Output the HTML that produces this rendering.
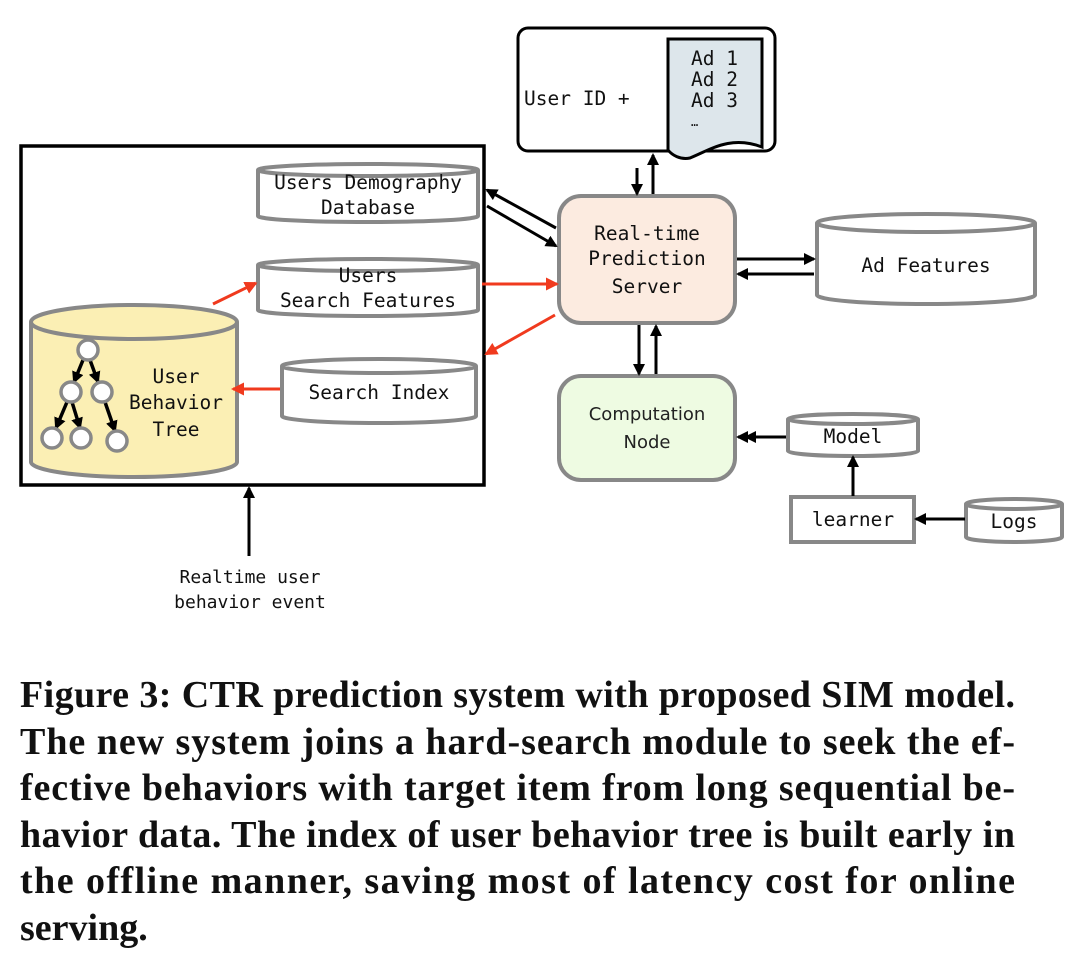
<!DOCTYPE html>
<html><head><meta charset="utf-8"><style>
body{margin:0;background:#fff;}
svg{display:block}
.m{font-family:"DejaVu Sans Mono","Liberation Mono",monospace;font-size:19.5px;fill:#111}
.s{font-family:"DejaVu Sans","Liberation Sans",sans-serif;font-size:18px;fill:#222}
.c{font-family:"Liberation Serif",serif;font-weight:bold;font-size:38px;fill:#111}
</style></head><body>
<svg width="1080" height="975" viewBox="0 0 1080 975" xmlns="http://www.w3.org/2000/svg">
<defs>
<marker id="a" markerWidth="12" markerHeight="12" refX="10" refY="6" orient="auto" markerUnits="userSpaceOnUse"><path d="M0,0 L12,6 L0,12 z" fill="#000"/></marker>
<marker id="r" markerWidth="13" markerHeight="13" refX="11" refY="6.5" orient="auto" markerUnits="userSpaceOnUse"><path d="M0,0 L13,6.5 L0,13 z" fill="#f03a1e"/></marker>
</defs>
<rect x="21" y="146" width="463" height="339" fill="none" stroke="#000" stroke-width="3.5"/>
<g stroke="#888" stroke-width="4" fill="#fff">
<path d="M258,170 V216 A110,6 0 0 0 478,216 V170"/><ellipse cx="368" cy="170" rx="110" ry="6"/>
<path d="M258,265 V310 A110,6 0 0 0 478,310 V265"/><ellipse cx="368" cy="265" rx="110" ry="6"/>
<path d="M282,366 V416 A97,7 0 0 0 476,416 V366"/><ellipse cx="379" cy="366" rx="97" ry="7"/>
<path d="M817,223 V295 A109,9 0 0 0 1035,295 V223"/><ellipse cx="926" cy="223" rx="109" ry="9"/>
<path d="M788,419 V451 A65,5 0 0 0 918,451 V419"/><ellipse cx="853" cy="419" rx="65" ry="5"/>
<path d="M966,504 V537 A48,5 0 0 0 1062,537 V504"/><ellipse cx="1014" cy="504" rx="48" ry="5"/>
<path d="M31,322 V462 A103,15 0 0 0 237,462 V322" fill="#fbefb4"/><ellipse cx="134" cy="322" rx="103" ry="17" fill="#fbefb4"/>
<rect x="791" y="497" width="123" height="45" fill="#fff"/>
</g>
<g stroke="#000" stroke-width="3.5" marker-end="url(#a)">
<line x1="83" y1="360" x2="74" y2="382"/><line x1="90" y1="360" x2="98" y2="382"/>
<line x1="67" y1="402" x2="56" y2="428"/><line x1="72" y1="402" x2="80" y2="428"/><line x1="105" y1="402" x2="115" y2="431"/>
</g>
<g stroke="#888" stroke-width="3.5" fill="#fff">
<circle cx="88" cy="350" r="10"/><circle cx="71" cy="392" r="10"/><circle cx="102" cy="392" r="10"/>
<circle cx="52" cy="438" r="10"/><circle cx="81" cy="438" r="10"/><circle cx="117" cy="441" r="10"/>
</g>
<rect x="518" y="28" width="257" height="123" rx="10" fill="#fff" stroke="#000" stroke-width="3"/>
<path d="M668,39 H762 V147 C730,135 710,150 690,158 C680,160 672,155 668,150 Z" fill="#dde6eb" stroke="#000" stroke-width="3"/>
<rect x="559" y="196" width="176" height="127" rx="22" fill="#fcebe0" stroke="#888" stroke-width="4"/>
<rect x="559" y="376" width="176" height="104" rx="22" fill="#eefbe2" stroke="#888" stroke-width="4"/>
<g stroke="#000" stroke-width="3" marker-end="url(#a)">
<line x1="637" y1="168" x2="637" y2="194"/><line x1="653" y1="194" x2="653" y2="155"/>
<line x1="556" y1="228" x2="487" y2="190"/><line x1="487" y1="206" x2="556" y2="246"/>
<line x1="737" y1="259" x2="814" y2="259"/><line x1="814" y1="274" x2="738" y2="274"/>
<line x1="639" y1="325" x2="639" y2="374"/><line x1="656" y1="374" x2="656" y2="326"/>
<line x1="786" y1="437" x2="738" y2="437"/>
<line x1="853" y1="496" x2="853" y2="457"/><line x1="965" y1="519" x2="916" y2="519"/>
<line x1="249" y1="556" x2="249" y2="488"/>
</g>
<line x1="786" y1="437" x2="746" y2="437" stroke="#000" stroke-width="3" marker-end="url(#a)"/>
<g stroke="#f03a1e" stroke-width="3" marker-end="url(#r)">
<line x1="213" y1="304" x2="256" y2="283"/>
<line x1="482" y1="284" x2="557" y2="284"/>
<line x1="555" y1="315" x2="486" y2="354"/>
<line x1="280" y1="389" x2="233" y2="389"/>
</g>
<text class="m" x="368" y="189" text-anchor="middle">Users Demography</text>
<text class="m" x="368" y="214" text-anchor="middle">Database</text>
<text class="m" x="368" y="282" text-anchor="middle">Users</text>
<text class="m" x="368" y="307" text-anchor="middle">Search Features</text>
<text class="m" x="379" y="399" text-anchor="middle">Search Index</text>
<text class="m" x="176" y="383" text-anchor="middle">User</text>
<text class="m" x="176" y="409" text-anchor="middle">Behavior</text>
<text class="m" x="176" y="436" text-anchor="middle">Tree</text>
<text class="m" x="524" y="105">User ID +</text>
<text class="m" x="691" y="65">Ad 1</text><text class="m" x="691" y="86">Ad 2</text><text class="m" x="691" y="107">Ad 3</text>
<text class="m" x="691" y="126" style="font-size:12px">…</text>
<text class="m" x="647" y="240" text-anchor="middle">Real-time</text>
<text class="m" x="647" y="265" text-anchor="middle">Prediction</text>
<text class="m" x="647" y="293" text-anchor="middle">Server</text>
<text class="m" x="926" y="272" text-anchor="middle">Ad Features</text>
<text class="s" x="647" y="420" text-anchor="middle">Computation</text>
<text class="s" x="647" y="448" text-anchor="middle">Node</text>
<text class="m" x="853" y="443" text-anchor="middle">Model</text>
<text class="m" x="853" y="526" text-anchor="middle">learner</text>
<text class="m" x="1014" y="528" text-anchor="middle">Logs</text>
<text class="m" x="250" y="583" text-anchor="middle" style="font-size:18px">Realtime user</text>
<text class="m" x="250" y="608" text-anchor="middle" style="font-size:18px">behavior event</text>
<text class="c" x="20" y="707" textLength="995" lengthAdjust="spacing">Figure 3: CTR prediction system with proposed SIM model.</text>
<text class="c" x="20" y="754" textLength="995" lengthAdjust="spacing">The new system joins a hard-search module to seek the ef-</text>
<text class="c" x="20" y="800" textLength="995" lengthAdjust="spacing">fective behaviors with target item from long sequential be-</text>
<text class="c" x="20" y="847" textLength="995" lengthAdjust="spacing">havior data. The index of user behavior tree is built early in</text>
<text class="c" x="20" y="893" textLength="995" lengthAdjust="spacing">the offline manner, saving most of latency cost for online</text>
<text class="c" x="20" y="940">serving.</text>
</svg>
</body></html>
